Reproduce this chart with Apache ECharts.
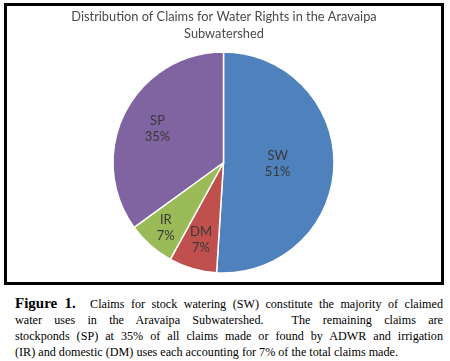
<!DOCTYPE html>
<html>
<head>
<meta charset="utf-8">
<script src="https://cdn.jsdelivr.net/npm/echarts@6/dist/echarts.min.js"></script>
<style>
  html, body { margin: 0; padding: 0; background: #fff; width: 450px; height: 361px; overflow: hidden; }
  #chart { position: absolute; left: 4px; top: 3px; width: 440px; height: 282px; border: 3px solid #000; box-sizing: border-box; }
  #caption { position: absolute; left: 15px; top: 295px; width: 428px; font-family: "Liberation Serif", "Times New Roman", serif; font-size: 12.15px; line-height: 16px; color: #000; }
  #caption .j { text-align: justify; text-align-last: justify; white-space: nowrap; }
  #caption .l { text-align: left; white-space: nowrap; }
  #caption b { font-size: 15px; }
</style>
</head>
<body>
<div id="chart"></div>
<div id="caption">
  <div class="j"><b>Figure 1.</b><span style="display:inline-block;width:8px"></span> Claims for stock watering (SW) constitute the majority of claimed</div>
  <div class="j">water uses in the Aravaipa Subwatershed.<span style="display:inline-block;width:16px"></span> The remaining claims are</div>
  <div class="j">stockponds (SP) at 35% of all claims made or found by ADWR and irrigation</div>
  <div class="l">(IR) and domestic (DM) uses each accounting for 7% of the total claims made.</div>
</div>
<script>
var titleText = 'Distribution of Claims for Water Rights in the Aravaipa\nSubwatershed';
var categories = ['SW', 'DM', 'IR', 'SP'];
var values = [51, 7, 7, 35];
var colors = ['#4F81BD', '#C0504D', '#9BBB59', '#8064A2'];
var labelRadius = [0.49, 0.73, 0.79, 0.67];

var chart = echarts.init(document.getElementById('chart'), null, { renderer: 'canvas' });
var seriesData = categories.map(function (c, i) {
  return { name: c, value: values[i], itemStyle: { color: colors[i] } };
});
chart.setOption({
  animation: false,
  backgroundColor: '#fff',
  title: {
    text: titleText,
    left: 'center',
    top: 2,
    padding: 0,
    textStyle: { fontFamily: 'Lato', fontSize: 12.8, fontWeight: 'normal', color: '#4a4a4a', lineHeight: 17 }
  },
  series: [{
    type: 'pie',
    center: [216.5, 156.5],
    radius: 110.5,
    startAngle: 90,
    clockwise: true,
    data: seriesData,
    itemStyle: { borderColor: '#fff', borderWidth: 1.5 },
    emphasis: { disabled: true },
    label: {
      show: true,
      position: 'inside',
      formatter: function (p) { return p.name + '\n' + p.percent.toFixed(0) + '%'; },
      fontFamily: 'Lato',
      fontSize: 13,
      lineHeight: 16,
      color: '#383838'
    },
    labelLine: { show: false },
    labelLayout: function (params) {
      var data = chart.getModel().getSeriesByIndex(0).getData();
      var L = data.getItemLayout(params.dataIndex);
      var mid = (L.startAngle + L.endAngle) / 2;
      var rr = L.r * labelRadius[params.dataIndex];
      return { x: L.cx + rr * Math.cos(mid), y: L.cy + rr * Math.sin(mid), align: 'center', verticalAlign: 'middle' };
    }
  }]
});
</script>
</body>
</html>
